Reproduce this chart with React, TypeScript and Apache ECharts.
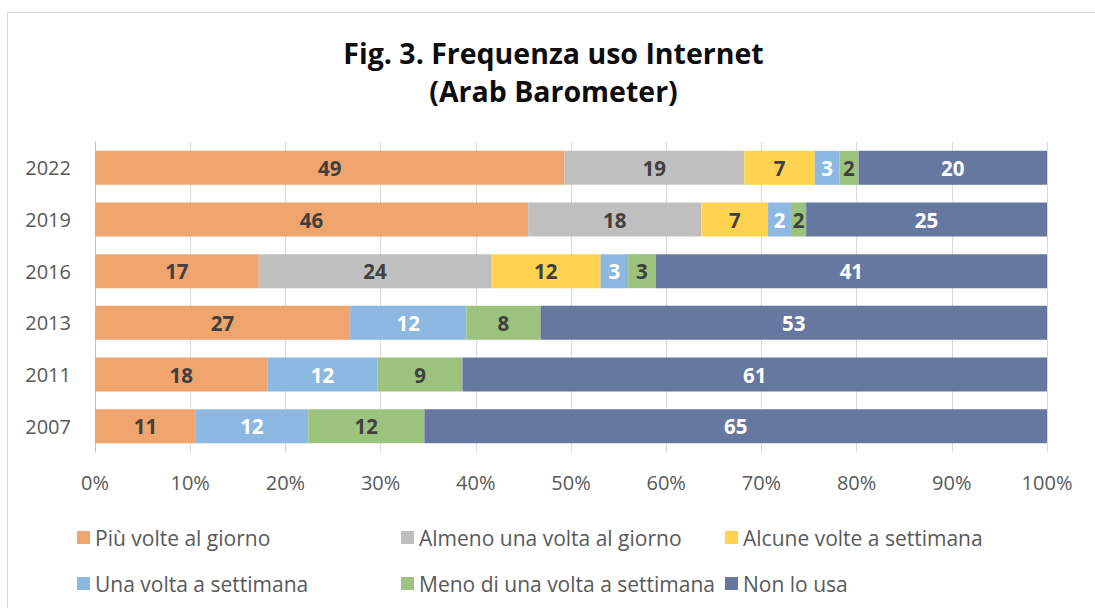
import React, { useEffect, useRef } from "react";
import * as echarts from "echarts";

// Categories bottom-to-top
const years = ["2007", "2011", "2013", "2016", "2019", "2022"];
const xTicks = [0, 10, 20, 30, 40, 50, 60, 70, 80, 90, 100];

const piuVolte = [10.6, 18.1, 26.8, 17.2, 45.5, 49.3];
const almenoUna = [null, null, null, 24.4, 18.2, 18.9];
const alcuneVolte = [null, null, null, 11.5, 7.0, 7.4];
const unaVolta = [11.8, 11.6, 12.2, 2.9, 2.4, 2.6];
const menoDiUna = [12.2, 8.9, 7.8, 2.9, 1.6, 2.0];
const nonLoUsa = [65.4, 61.4, 53.2, 41.1, 25.3, 19.8];

const seriesNames = [
  "Più volte al giorno",
  "Almeno una volta al giorno",
  "Alcune volte a settimana",
  "Una volta a settimana",
  "Meno di una volta a settimana",
  "Non lo usa",
];
const seriesData = [piuVolte, almenoUna, alcuneVolte, unaVolta, menoDiUna, nonLoUsa];
const seriesColors = ["#F0A46E", "#BFBFBF", "#FFD24F", "#8DB8E2", "#9CC37E", "#66789F"];
const labelColors = ["#404040", "#404040", "#404040", "#FFFFFF", "#404040", "#FFFFFF"];

const FONT = "Open Sans";

export default function App() {
  const ref = useRef<HTMLDivElement>(null);
  useEffect(() => {
    if (!ref.current) return;
    const chart = echarts.init(ref.current, null, { renderer: "svg" });
    const legendPos = [
      { left: 77, top: 537.5 },
      { left: 401, top: 537.5 },
      { left: 725, top: 537.5 },
      { left: 77, top: 583.5 },
      { left: 401, top: 583.5 },
      { left: 725, top: 583.5 },
    ];
    chart.setOption({
      animation: false,
      textStyle: { fontFamily: FONT },
      graphic: [
        {
          type: "rect",
          shape: { x: 7.5, y: 12.5, width: 1200, height: 700 },
          style: { fill: "none", stroke: "#D9D9D9", lineWidth: 1 },
          silent: true,
        },
        {
          type: "text",
          x: 553.5,
          y: 52.5,
          style: {
            text: "Fig. 3. Frequenza uso Internet",
            font: `bold 28.5px "${FONT}"`,
            fill: "#0D0D0D",
            textAlign: "center",
            textVerticalAlign: "middle",
          },
        },
        {
          type: "text",
          x: 553.5,
          y: 91,
          style: {
            text: "(Arab Barometer)",
            font: `bold 28.5px "${FONT}"`,
            fill: "#0D0D0D",
            textAlign: "center",
            textVerticalAlign: "middle",
          },
        },
      ],
      legend: seriesNames.map((name, i) => ({
        data: [name],
        left: legendPos[i].left,
        top: legendPos[i].top - 12,
        padding: 0,
        icon: "rect",
        itemWidth: 13,
        itemHeight: 13,
        selectedMode: false,
        textStyle: { fontSize: 21, color: "#595959", fontFamily: FONT, lineHeight: 24 },
      })),
      grid: { left: 95, right: 48, top: 142, height: 310, containLabel: false },
      xAxis: {
        type: "value",
        min: 0,
        max: 100,
        interval: 10,
        axisLine: { show: false },
        axisTick: { show: false },
        axisLabel: {
          formatter: (v: number) => (xTicks.includes(v) ? `${v}%` : ""),
          color: "#595959",
          fontSize: 20,
          margin: 20,
          fontFamily: FONT,
        },
        splitLine: { show: true, lineStyle: { color: "#D9D9D9", width: 1 } },
      },
      yAxis: {
        type: "category",
        data: years,
        axisLine: { show: true, lineStyle: { color: "#BFBFBF", width: 1 } },
        axisTick: { show: false },
        axisLabel: { color: "#595959", fontSize: 20, margin: 24, fontFamily: FONT },
        splitLine: { show: false },
      },
      series: seriesNames.map((name, i) => ({
        name,
        type: "bar",
        stack: "total",
        barWidth: 34,
        data: seriesData[i],
        itemStyle: { color: seriesColors[i] },
        label: {
          show: true,
          position: "inside",
          color: labelColors[i],
          fontSize: 20.5,
          fontWeight: "bold",
          fontFamily: FONT,
          formatter: (p: any) => (p.value == null ? "" : String(Math.round(p.value))),
        },
      })),
    });
    return () => chart.dispose();
  }, []);
  return (
    <div
      ref={ref}
      style={{ position: "fixed", left: 0, top: 0, width: 1095, height: 608, background: "#fff" }}
    />
  );
}
